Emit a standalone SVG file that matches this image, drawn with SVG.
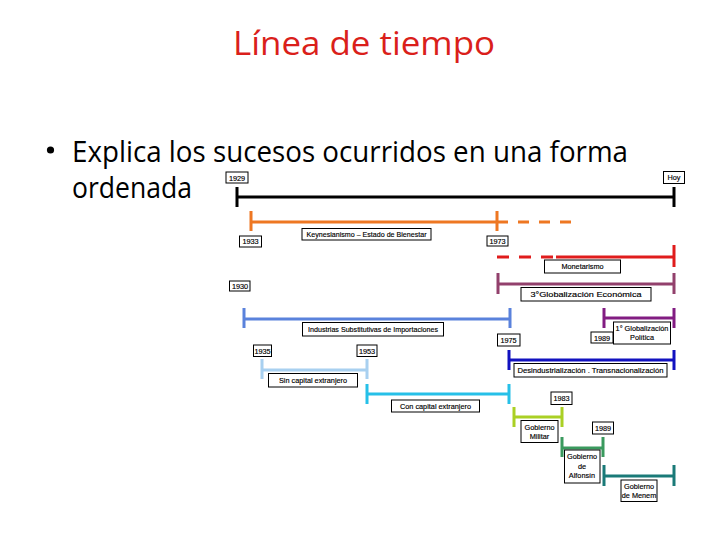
<svg xmlns="http://www.w3.org/2000/svg" width="728" height="546" viewBox="0 0 728 546">
<style>
.title{font-family:"Open Sans","Noto Sans","Liberation Sans",sans-serif;font-size:32px;fill:#DA1F1B}
.body{font-family:"Open Sans","Noto Sans","Liberation Sans",sans-serif;font-size:29px;fill:#000}
.box{fill:#fff;stroke:#000;stroke-width:1}
.lb{font-family:"Liberation Sans","Arial",sans-serif;font-size:7.3px;fill:#000;stroke:#000;stroke-width:0.15;text-anchor:middle}
.ln{fill:none;stroke-width:3}
</style>
<rect width="728" height="546" fill="#fff"/>
<text class="title" x="233" y="55" textLength="262" lengthAdjust="spacingAndGlyphs">Línea de tiempo</text>
<circle cx="50.5" cy="150" r="3.6" fill="#000"/>
<text class="body" x="72" y="161.5" textLength="556" lengthAdjust="spacingAndGlyphs">Explica los sucesos ocurridos en una forma</text>
<text class="body" x="72" y="198" textLength="120" lengthAdjust="spacingAndGlyphs">ordenada</text>

<g id="connectors">
<g id="black"><path class="ln" stroke="#000" d="M237 197H674M237 187V207M674 187V207"/></g>
<g id="orange"><path class="ln" stroke="#EE7722" d="M251 222H497M251 211V231M497 211V231"/><path class="ln" stroke="#EE7722" stroke-dasharray="11 10" d="M497 222H572"/></g>
<g id="red"><path class="ln" stroke="#E01C1C" stroke-dasharray="12 10" d="M497 257H557"/><path class="ln" stroke="#E01C1C" d="M556 257H674M674 245V267"/></g>
<g id="purple"><path class="ln" stroke="#92406C" d="M498 284H674M498 273V294M674 273V294"/></g>
<g id="industrias"><path class="ln" stroke="#5A82DC" d="M244 319H510M244 308V328M510 308V328"/></g>
<g id="glob1"><path class="ln" stroke="#821C82" d="M604 318H674M604 308V328M674 308V328"/></g>
<g id="desind"><path class="ln" stroke="#1212C0" d="M509 360H674M509 350V370M674 350V370"/></g>
<g id="sincap"><path class="ln" stroke="#A8D0F0" d="M262 370H367M262 359V379M367 359V379"/></g>
<g id="concap"><path class="ln" stroke="#26C0E8" d="M367 394H509M367 384V404M509 384V404"/></g>
<g id="militar"><path class="ln" stroke="#AAD024" d="M514 417H562M514 407V427M562 407V427"/></g>
<g id="alfonsin"><path class="ln" stroke="#3A9A5E" d="M562 448H603M562 437V457M603 437V457"/></g>
<g id="menem"><path class="ln" stroke="#1A7A78" d="M604 476H674M604 465V486M674 465V486"/></g>
</g>

<g id="n1929"><rect class="box" x="226" y="172" width="22" height="11"/><text class="lb" x="237" y="180.5">1929</text></g>
<g id="nHoy"><rect class="box" x="663.5" y="171.5" width="21" height="12"/><text class="lb" x="674" y="180">Hoy</text></g>
<g id="n1933"><rect class="box" x="239.5" y="236" width="22" height="11"/><text class="lb" x="250.5" y="244">1933</text></g>
<g id="nKeynes"><rect class="box" x="302" y="228.5" width="129" height="11.5"/><text class="lb" x="366.5" y="237" textLength="120" lengthAdjust="spacingAndGlyphs">Keynesianismo – Estado de Bienestar</text></g>
<g id="n1973"><rect class="box" x="487" y="236" width="21" height="10"/><text class="lb" x="497.5" y="243.5">1973</text></g>
<g id="nMonetarismo"><rect class="box" x="544.5" y="260" width="76" height="13"/><text class="lb" x="582.5" y="269">Monetarismo</text></g>
<g id="nGlob3"><rect class="box" x="521" y="287.5" width="130" height="13.5"/><text class="lb" x="586" y="296.5" textLength="111" lengthAdjust="spacingAndGlyphs">3°Globalización Económica</text></g>
<g id="n1930"><rect class="box" x="229.5" y="281" width="20.5" height="10"/><text class="lb" x="240" y="288.5">1930</text></g>
<g id="nIndustrias"><rect class="box" x="302.5" y="322.5" width="141" height="13.5"/><text class="lb" x="373" y="331.5" textLength="130" lengthAdjust="spacingAndGlyphs">Industrias Substitutivas de Importaciones</text></g>
<g id="n1989a"><rect class="box" x="591" y="332" width="22" height="11"/><text class="lb" x="602" y="340.5">1989</text></g>
<g id="nGlob1"><rect class="box" x="613.5" y="322" width="57" height="22"/><text class="lb" x="642" y="331">1° Globalización</text><text class="lb" x="642" y="340">Política</text></g>
<g id="n1975"><rect class="box" x="497.5" y="334" width="22.5" height="12"/><text class="lb" x="508.5" y="342.5">1975</text></g>
<g id="nDesind"><rect class="box" x="514" y="363.5" width="153" height="13.5"/><text class="lb" x="590.5" y="372.5" textLength="146" lengthAdjust="spacingAndGlyphs">Desindustrialización . Transnacionalización</text></g>
<g id="n1935"><rect class="box" x="253.5" y="345" width="18" height="11.5"/><text class="lb" x="262.5" y="353.5">1935</text></g>
<g id="n1953"><rect class="box" x="357" y="345" width="20" height="11.5"/><text class="lb" x="367" y="353.5">1953</text></g>
<g id="nSincap"><rect class="box" x="268.5" y="373.5" width="89" height="13.5"/><text class="lb" x="313" y="382.5">Sin capital extranjero</text></g>
<g id="nConcap"><rect class="box" x="391.5" y="400" width="88" height="12"/><text class="lb" x="435.5" y="408.5">Con capital extranjero</text></g>
<g id="n1983"><rect class="box" x="551" y="392" width="21" height="12.5"/><text class="lb" x="561.5" y="400.5">1983</text></g>
<g id="nMilitar"><rect class="box" x="521" y="420.5" width="37" height="22"/><text class="lb" x="539.5" y="429.5">Gobierno</text><text class="lb" x="539.5" y="438.5">Militar</text></g>
<g id="n1989b"><rect class="box" x="592.5" y="422" width="21" height="12"/><text class="lb" x="603" y="430.5">1989</text></g>
<g id="nAlfonsin"><rect class="box" x="564.5" y="450" width="35.5" height="33"/><text class="lb" x="582" y="459">Gobierno</text><text class="lb" x="582" y="468.5">de</text><text class="lb" x="582" y="478">Alfonsín</text></g>
<g id="nMenem"><rect class="box" x="621" y="480" width="36" height="21.5"/><text class="lb" x="639" y="489">Gobierno</text><text class="lb" x="639" y="498">de Menem</text></g>
</svg>
